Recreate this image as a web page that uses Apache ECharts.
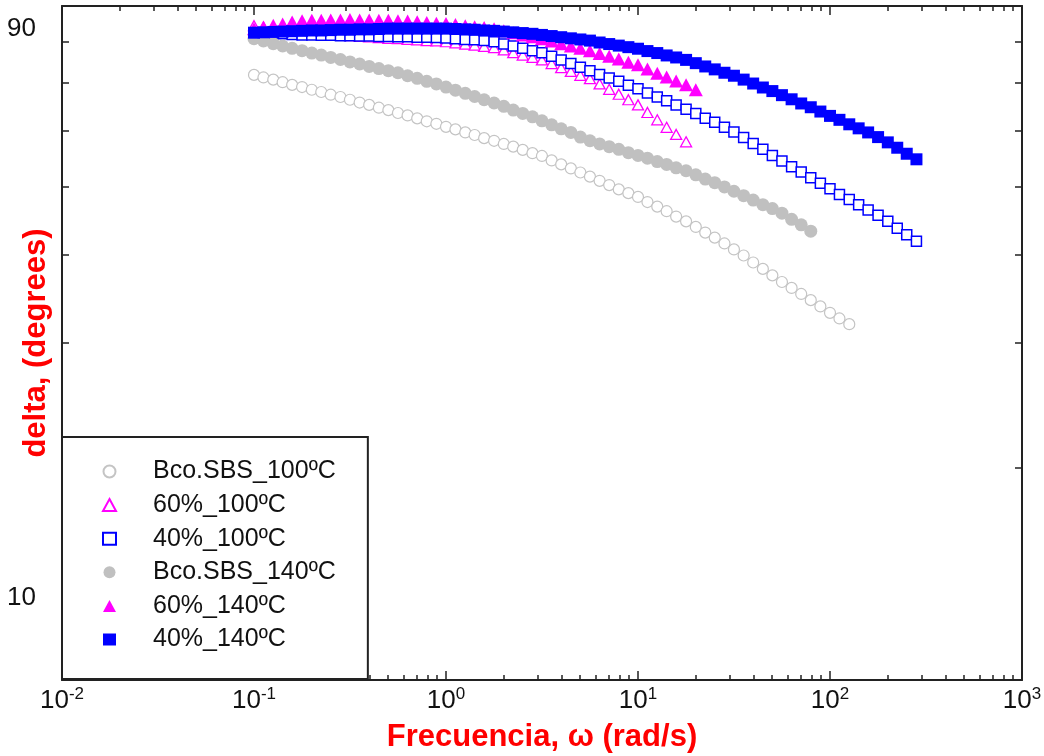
<!DOCTYPE html>
<html><head><meta charset="utf-8">
<script src="https://cdn.jsdelivr.net/npm/echarts@6/dist/echarts.min.js"></script>
<style>html,body{margin:0;padding:0;background:#fff}#c{width:1044px;height:756px}</style>
</head><body><div id="c"></div>
<script>
// Frequency (rad/s) of each measurement point
const freq = [0.1,0.112,0.126,0.141,0.158,0.178,0.2,0.224,0.251,0.282,0.316,0.355,0.398,0.447,0.501,0.562,0.631,0.708,0.794,0.891,
  1,1.12,1.26,1.41,1.58,1.78,2,2.24,2.51,2.82,3.16,3.55,3.98,4.47,5.01,5.62,6.31,7.08,7.94,8.91,
  10,11.2,12.6,14.1,15.8,17.8,20,22.4,25.1,28.2,31.6,35.5,39.8,44.7,50.1,56.2,63.1,70.8,79.4,89.1,
  100,112,126,141,158,178,200,224,251,282];

const seriesNames = ['Bco.SBS_100ºC','60%_100ºC','40%_100ºC','Bco.SBS_140ºC','60%_140ºC','40%_140ºC'];

// delta (degrees) for each series, point i at freq[i]
const deltaBco100 = [71.9,71.3,70.8,70.2,69.6,69.1,68.5,68.0,67.4,66.9,66.3,65.7,65.2,64.6,64.1,63.5,63.0,62.4,61.8,61.3,
  60.7,60.2,59.6,59.1,58.5,58.0,57.4,56.9,56.3,55.7,55.2,54.4,53.7,53.0,52.3,51.6,50.9,50.2,49.5,48.9,
  48.3,47.5,46.8,46.1,45.3,44.6,43.8,43.0,42.3,41.5,40.7,39.9,39.0,38.2,37.4,36.6,35.9,35.2,34.5,33.8,
  33.1,32.5,31.9];
const delta60_100 = [84.4,84.1,83.8,83.4,83.1,82.7,82.5,82.3,82.1,81.9,81.7,81.5,81.4,81.2,81.0,80.9,80.7,80.6,80.4,80.3,
  80.1,79.8,79.5,79.2,78.9,78.6,78.0,77.3,76.7,76.1,75.5,74.6,73.6,72.7,71.8,71.0,69.8,68.6,67.5,66.3,
  65.2,63.6,62.1,60.6,59.2,57.8];
const delta40_100 = [82.5,82.4,82.3,82.2,82.0,81.9,81.9,81.8,81.8,81.7,81.7,81.6,81.6,81.5,81.5,81.4,81.4,81.3,81.3,81.2,
  81.1,80.9,80.7,80.6,80.4,80.1,79.5,79.0,78.4,77.8,77.3,76.4,75.5,74.6,73.7,72.9,72.0,71.2,70.4,69.5,
  68.7,67.8,66.9,66.1,65.2,64.3,63.4,62.4,61.6,60.6,59.7,58.6,57.5,56.4,55.3,54.3,53.3,52.4,51.4,50.5,
  49.6,48.7,47.9,47.1,46.3,45.5,44.6,43.6,42.7,41.8];
const deltaBco140 = [80.9,80.3,79.6,79.0,78.4,77.8,77.2,76.7,76.1,75.6,75.0,74.5,73.9,73.4,72.9,72.4,71.7,71.1,70.4,69.8,
  69.1,68.4,67.7,67.0,66.3,65.6,64.9,64.1,63.4,62.7,61.9,61.1,60.3,59.6,58.7,58.0,57.4,56.9,56.4,55.8,
  55.3,54.8,54.2,53.7,53.1,52.6,51.9,51.2,50.6,49.9,49.2,48.5,47.8,47.1,46.5,45.8,44.9,44.1,43.2];
const delta60_140 = [83.6,84.0,84.5,84.9,85.4,85.8,85.9,85.9,86.0,86.0,86.1,86.0,86.0,85.9,85.9,85.8,85.7,85.5,85.3,85.1,
  85.0,84.7,84.4,84.1,83.9,83.6,83.0,82.5,81.9,81.4,80.9,80.3,79.6,79.0,78.4,77.8,77.1,76.4,75.7,74.9,
  74.3,73.3,72.3,71.4,70.5,69.6,68.5];
const delta40_140 = [82.5,82.6,82.7,82.8,82.9,83.0,83.1,83.1,83.2,83.3,83.3,83.4,83.4,83.5,83.6,83.6,83.6,83.6,83.6,83.6,
  83.6,83.5,83.4,83.3,83.1,83.0,82.8,82.6,82.4,82.2,81.9,81.6,81.3,81.0,80.7,80.4,79.9,79.5,79.1,78.7,
  78.3,77.7,77.2,76.6,76.1,75.5,74.7,73.9,73.2,72.4,71.7,70.8,69.9,69.0,68.2,67.3,66.4,65.5,64.7,63.8,
  62.9,62.1,61.2,60.4,59.6,58.7,57.7,56.7,55.6,54.6];

// Axis ticks and labels
const xMajor = [0.01,0.1,1,10,100,1000];
const xMinor = [0.02,0.03,0.04,0.05,0.06,0.07,0.08,0.09,0.2,0.3,0.4,0.5,0.6,0.7,0.8,0.9,
  2,3,4,5,6,7,8,9,20,30,40,50,60,70,80,90,200,300,400,500,600,700,800,900];
const yTicks = [20,30,40,50,60,70,80];
const yLabels = [10,90];

const numFont = "'Liberation Sans Narrow','Liberation Sans',Arial,sans-serif";
const textFont = "'Liberation Sans',Arial,sans-serif";
const lineCol = '#222';

const styles = [
  {data: deltaBco100, symbol:'circle', size:11, fill:'#ffffff', stroke:'#c4c4c4', bw:1.2},
  {data: delta60_100, symbol:'triangle', size:[11,10], fill:'#ffffff', stroke:'#ff00ff', bw:1.3},
  {data: delta40_100, symbol:'rect', size:10, fill:'#ffffff', stroke:'#0000ff', bw:1.5},
  {data: deltaBco140, symbol:'circle', size:13, fill:'#c0c0c0', stroke:'#c0c0c0', bw:0},
  {data: delta60_140, symbol:'triangle', size:[14,13], fill:'#ff00ff', stroke:'#ff00ff', bw:0},
  {data: delta40_140, symbol:'rect', size:12, fill:'#0000ff', stroke:'#0000ff', bw:0}
];

function pairs(ys){ return ys.map(function(y,i){ return [freq[i], y]; }); }

function xAxisDef(pos, ticks, len, showLine, labels){
  return {
    type:'log', logBase:10, min:0.01, max:1000, gridIndex:0, position:pos,
    axisLine:{show:showLine, onZero:false, lineStyle:{color:lineCol, width:2}},
    axisTick:{show:true, inside:true, length:len, customValues:ticks, lineStyle:{color:lineCol, width:1.5}},
    splitLine:{show:false},
    axisLabel: labels ? {
      show:true, customValues:xMajor, margin:6, color:'#111', fontFamily:numFont, fontSize:26,
      formatter:function(v){ return '10{e|' + Math.round(Math.log10(v)) + '}'; },
      rich:{ e:{fontFamily:numFont, fontSize:17, color:'#111', padding:[0,0,12,0]} }
    } : {show:false},
    name: labels ? 'Frecuencia, ω (rad/s)' : '',
    nameLocation:'middle', nameGap:42, nameMoveOverlap:false,
    nameTextStyle:{color:'#ff0000', fontWeight:'bold', fontFamily:textFont, fontSize:31}
  };
}
function yAxisDef(pos, labels){
  return {
    type:'log', logBase:10, min:10, max:90, gridIndex:0, position:pos,
    axisLine:{show:true, onZero:false, lineStyle:{color:lineCol, width:2}},
    axisTick:{show:true, inside:true, length:7, customValues:yTicks, lineStyle:{color:lineCol, width:1.5}},
    splitLine:{show:false},
    axisLabel: labels ? {
      show:true, customValues:yLabels, margin:26, color:'#111', fontFamily:numFont, fontSize:26,
      formatter:function(v){ return v >= 90 ? '{t|' + v + '}' : '{b|' + v + '}'; },
      rich:{ t:{fontFamily:numFont, fontSize:26, color:'#111', padding:[46,0,0,0]},
             b:{fontFamily:numFont, fontSize:26, color:'#111', padding:[0,0,164,0]} }
    } : {show:false},
    name: labels ? 'delta, (degrees)' : '',
    nameLocation:'middle', nameGap:10, nameMoveOverlap:false,
    nameTextStyle:{color:'#ff0000', fontWeight:'bold', fontFamily:textFont, fontSize:31}
  };
}

const chart = echarts.init(document.getElementById('c'), null, {renderer:'canvas'});
chart.setOption({
  animation:false,
  backgroundColor:'#ffffff',
  grid:{left:62, right:22, top:6, bottom:76, containLabel:false, outerBoundsMode:'none'},
  xAxis:[
    xAxisDef('bottom', xMajor, 9, true, true),
    xAxisDef('bottom', xMinor, 5, false, false),
    xAxisDef('top', xMajor, 9, true, false),
    xAxisDef('top', xMinor, 5, false, false)
  ],
  yAxis:[ yAxisDef('left', true), yAxisDef('right', false) ],
  legend:{
    orient:'vertical', left:62, top:437, z:10,
    data:seriesNames,
    backgroundColor:'#ffffff', borderColor:lineCol, borderWidth:2, borderRadius:0,
    padding:[22,32,27,40],
    itemWidth:13, itemHeight:12, itemGap:8.6,
    textStyle:{fontFamily:textFont, fontSize:25, color:'#111', lineHeight:25, padding:[0,0,0,32]},
    selectedMode:false
  },
  series: styles.map(function(s, k){
    return {
      type:'scatter', name:seriesNames[k], xAxisIndex:0, yAxisIndex:0,
      data:pairs(s.data), symbol:s.symbol, symbolSize:s.size,
      itemStyle:{color:s.fill, borderColor:s.stroke, borderWidth:s.bw, opacity:1},
      emphasis:{disabled:true}, silent:true
    };
  })
});
</script></body></html>
